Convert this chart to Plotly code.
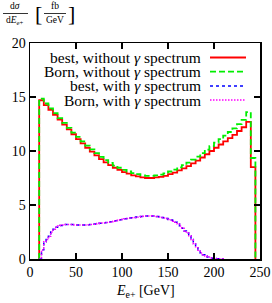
import plotly.graph_objects as go

# ---------------- data ----------------
# main spectrum: 5 GeV bins from 10 to 245 GeV
main_bin_start = 10
main_bin_width = 5
best_without = [14.7, 14.25, 13.8, 13.35, 12.9, 12.45, 12.0, 11.55, 11.1, 10.7,
                10.3, 9.95, 9.6, 9.25, 8.95, 8.7, 8.45, 8.25, 8.05, 7.9,
                7.75, 7.65, 7.55, 7.5, 7.5, 7.55, 7.6, 7.7, 7.85, 8.0,
                8.2, 8.4, 8.6, 8.85, 9.1, 9.4, 9.7, 10.0, 10.3, 10.6,
                10.9, 11.2, 11.5, 11.85, 12.2, 12.7, 8.5]
born_without = [14.85, 14.4, 13.95, 13.5, 13.05, 12.6, 12.15, 11.7, 11.3, 10.9,
                10.5, 10.15, 9.8, 9.45, 9.15, 8.9, 8.65, 8.45, 8.25, 8.1,
                7.95, 7.85, 7.75, 7.7, 7.7, 7.75, 7.82, 7.93, 8.1, 8.27,
                8.48, 8.7, 8.93, 9.2, 9.47, 9.8, 10.12, 10.45, 10.78, 11.1,
                11.43, 11.76, 12.1, 12.48, 12.88, 13.6, 9.35]

# photon-spectrum curves: 2.5 GeV bins from 10 to 210 GeV
gam_bin_start = 10
gam_bin_width = 2.5
best_with = [0.0, 0.85, 1.6, 1.8, 2.1, 2.5, 2.75, 2.95, 3.05, 3.1,
             3.15, 3.2, 3.2, 3.2, 3.2, 3.15, 3.15, 3.15, 3.15, 3.15,
             3.15, 3.18, 3.2, 3.22, 3.25, 3.28, 3.3, 3.33, 3.35, 3.38,
             3.42, 3.46, 3.5, 3.55, 3.6, 3.64, 3.68, 3.72, 3.75, 3.79,
             3.82, 3.85, 3.88, 3.9, 3.93, 3.95, 3.97, 3.99, 4.0, 3.99,
             3.97, 3.94, 3.9, 3.85, 3.8, 3.75, 3.65, 3.6, 3.5, 3.4,
             3.25, 3.05, 2.85, 2.6, 2.4, 2.15, 1.8, 1.4, 1.05, 0.8,
             0.55, 0.4, 0.28, 0.18, 0.1, 0.07, 0.05, 0.03, 0.02, 0.01]
born_with = list(best_with)

legend_labels = ["best, without <i>γ</i> spectrum",
                 "Born, without <i>γ</i> spectrum",
                 "best, with <i>γ</i> spectrum",
                 "Born, with <i>γ</i> spectrum"]
x_ticks = [0, 50, 100, 150, 200, 250]
y_ticks = [0, 5, 10, 15, 20]

# ---------------- helpers ----------------
def step_xy(start, width, vals):
    xs = [start]
    ys = [0]
    for i, v in enumerate(vals):
        xs.append(start + i * width)
        ys.append(v)
    xs.append(start + len(vals) * width)
    ys.append(0)
    return xs, ys

W, H = 272, 303
L, R, T, B = 30, 12, 43, 44
pw, ph = W - L - R, H - T - B

def px(x):
    return (x - L) / pw

def py(y):
    return (H - B - y) / ph

FONT = "Liberation Serif"
styles = [
    dict(color="#ff0000", width=1.8, dash="solid"),
    dict(color="#00ee00", width=1.8, dash="6px,3px"),
    dict(color="#0000ff", width=1.5, dash="3px,3px"),
    dict(color="#ff00ff", width=1.5, dash="1.5px,1.5px"),
]

fig = go.Figure()
series = [(main_bin_start, main_bin_width, best_without),
          (main_bin_start, main_bin_width, born_without),
          (gam_bin_start, gam_bin_width, best_with),
          (gam_bin_start, gam_bin_width, born_with)]
for (s, w, vals), st, name in zip(series, styles, legend_labels):
    xs, ys = step_xy(s, w, vals)
    fig.add_trace(go.Scatter(x=xs, y=ys, mode="lines", line_shape="hv",
                             line=st, name=name, showlegend=False,
                             hoverinfo="skip"))

# manual legend (text right-aligned, sample on the right)
rows_y = [57.5, 71.7, 85.9, 100.1]
shapes = []
annotations = []
for lab, st, ry in zip(legend_labels, styles, rows_y):
    annotations.append(dict(text=lab, x=px(203), y=py(ry), xref="paper", yref="paper",
                            xanchor="right", yanchor="middle", showarrow=False,
                            font=dict(family=FONT, size=15.5, color="black")))
    shapes.append(dict(type="line", xref="paper", yref="paper",
                       x0=px(210), x1=px(246), y0=py(ry), y1=py(ry),
                       line=st))

# y-axis label: d sigma / dE_{e+} [fb/GeV]
sf = 9.5
annotations += [
    dict(text="d<i>σ</i>", x=px(15), y=py(6), xref="paper", yref="paper",
         xanchor="center", yanchor="middle", showarrow=False,
         font=dict(family=FONT, size=sf, color="black")),
    dict(text="d<i>E</i><sub>e+</sub>", x=px(15), y=py(20), xref="paper", yref="paper",
         xanchor="center", yanchor="middle", showarrow=False,
         font=dict(family=FONT, size=sf, color="black")),
    dict(text="[", x=px(38), y=py(13), xref="paper", yref="paper",
         xanchor="center", yanchor="middle", showarrow=False,
         font=dict(family=FONT, size=22, color="black")),
    dict(text="fb", x=px(55), y=py(6), xref="paper", yref="paper",
         xanchor="center", yanchor="middle", showarrow=False,
         font=dict(family=FONT, size=sf, color="black")),
    dict(text="GeV", x=px(55), y=py(20), xref="paper", yref="paper",
         xanchor="center", yanchor="middle", showarrow=False,
         font=dict(family=FONT, size=sf, color="black")),
    dict(text="]", x=px(71), y=py(13), xref="paper", yref="paper",
         xanchor="center", yanchor="middle", showarrow=False,
         font=dict(family=FONT, size=22, color="black")),
    dict(text="<i>E</i><sub>e+</sub> [GeV]", x=px(145), y=py(291), xref="paper", yref="paper",
         xanchor="center", yanchor="middle", showarrow=False,
         font=dict(family=FONT, size=14, color="black")),
]
shapes += [
    dict(type="line", xref="paper", yref="paper", x0=px(3), x1=px(28),
         y0=py(13.5), y1=py(13.5), line=dict(color="black", width=0.8)),
    dict(type="line", xref="paper", yref="paper", x0=px(44), x1=px(66),
         y0=py(13.5), y1=py(13.5), line=dict(color="black", width=0.8)),
]

axis_common = dict(showgrid=False, zeroline=False, showline=True, linecolor="black",
                   linewidth=1.5, mirror="ticks", ticks="inside", ticklen=6,
                   tickwidth=1.5, tickcolor="black", automargin=False,
                   tickfont=dict(family=FONT, size=14, color="black"))

fig.update_layout(
    width=W, height=H, margin=dict(l=L, r=R, t=T, b=B, autoexpand=False),
    paper_bgcolor="white", plot_bgcolor="white",
    xaxis=dict(range=[0, 250], tickvals=x_ticks, ticktext=[str(v) for v in x_ticks],
               **axis_common),
    yaxis=dict(range=[0, 20], tickvals=y_ticks, ticktext=[str(v) for v in y_ticks],
               **axis_common),
    shapes=shapes, annotations=annotations, showlegend=False,
)

fig.write_html("out.html", config={"displayModeBar": False, "staticPlot": True},
               post_script="document.body.style.margin='0px';document.body.style.padding='0px';")
